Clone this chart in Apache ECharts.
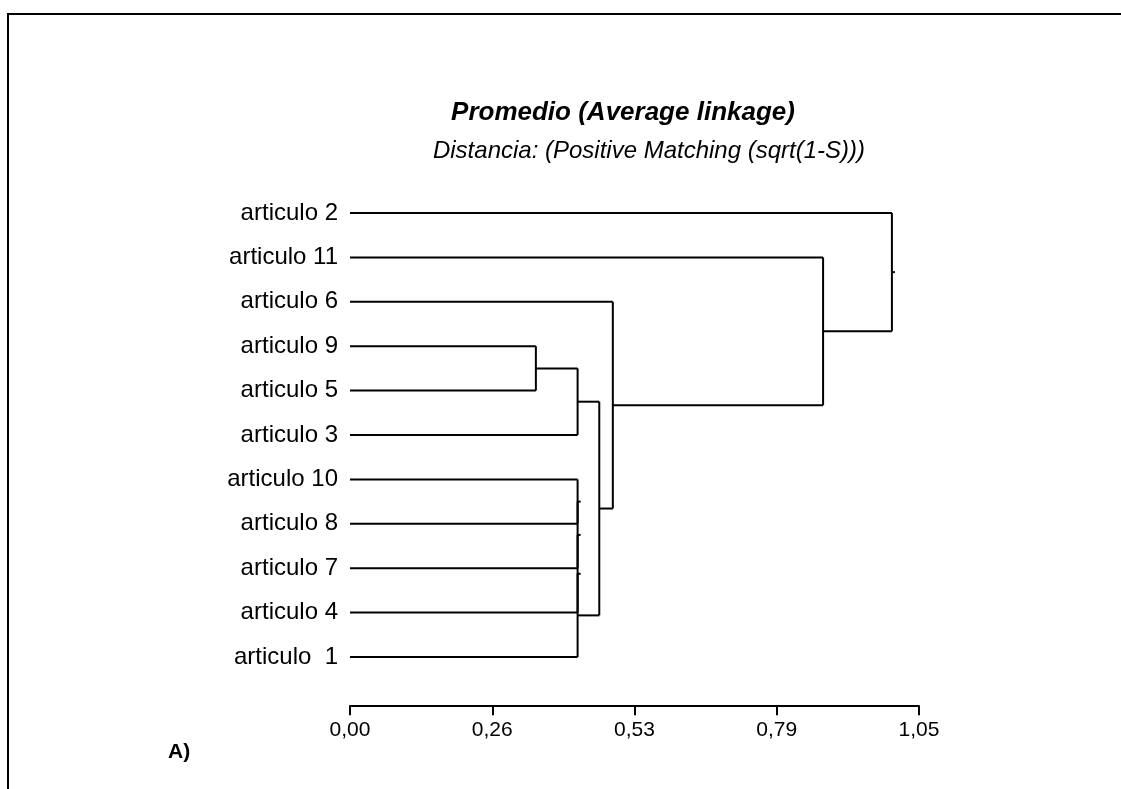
<!DOCTYPE html>
<html>
<head>
<meta charset="utf-8">
<script src="https://cdn.jsdelivr.net/npm/echarts@6/dist/echarts.min.js"></script>
<style>html,body{margin:0;padding:0;background:#fff}#c{width:1121px;height:789px}</style>
</head>
<body>
<div id="c"></div>
<script>
// Leaf order (top to bottom)
const leaves = ['articulo 2','articulo 11','articulo 6','articulo 9','articulo 5','articulo 3','articulo 10','articulo 8','articulo 7','articulo 4','articulo  1'];
// Binary merge steps: left child, right child, linkage distance
const mergeLeft   = ['articulo 9','m1','articulo 10','m3','m4','m5','m2','articulo 6','articulo 11','articulo 2'];
const mergeRight  = ['articulo 5','articulo 3','articulo 8','articulo 7','articulo 4','articulo  1','m6','m7','m8','m9'];
const mergeHeight = [0.343, 0.42, 0.42, 0.42, 0.42, 0.42, 0.46, 0.485, 0.873, 1.0];
// Axis ticks
const tickValues = [0, 0.2625, 0.525, 0.7875, 1.05];
const tickLabels = ['0,00','0,26','0,53','0,79','1,05'];

// Build segments from the merge table
const nodeY = {}, nodeH = {};
leaves.forEach((n, i) => { nodeY[n] = i; nodeH[n] = 0; });
const segs = [];
mergeHeight.forEach((h, k) => {
  const a = mergeLeft[k], b = mergeRight[k], id = 'm' + (k + 1);
  segs.push([nodeH[a], nodeY[a], h, nodeY[a]]);
  segs.push([nodeH[b], nodeY[b], h, nodeY[b]]);
  segs.push([h, nodeY[a], h, nodeY[b]]);
  nodeY[id] = (nodeY[a] + nodeY[b]) / 2;
  nodeH[id] = h;
});
const root = 'm' + mergeHeight.length;
segs.push([nodeH[root], nodeY[root], nodeH[root], nodeY[root]]);

const font = '"Liberation Sans", Arial, sans-serif';
const chart = echarts.init(document.getElementById('c'), null, {renderer: 'canvas'});
chart.setOption({
  animation: false,
  backgroundColor: '#fff',
  title: [
    {text: 'Promedio (Average linkage)', left: 618, top: 95, textAlign: 'center',
     textStyle: {fontFamily: font, fontSize: 26, fontWeight: 'bold', fontStyle: 'italic', color: '#000'}},
    {text: 'Distancia: (Positive Matching (sqrt(1-S)))', left: 644, top: 134, textAlign: 'center',
     textStyle: {fontFamily: font, fontSize: 24, fontWeight: 'normal', fontStyle: 'italic', color: '#000'}},
    {text: 'A)', left: 163, top: 737,
     textStyle: {fontFamily: font, fontSize: 21, fontWeight: 'bold', color: '#000'}}
  ],
  graphic: [{type: 'polyline', shape: {points: [[8, 789], [8, 14], [1121, 14]]},
             style: {stroke: '#000', lineWidth: 2, fill: null}}],
  grid: {left: 350, right: 202, top: 190.8, bottom: 109.8, containLabel: false},
  xAxis: {
    type: 'value', min: 0, max: 1.05, position: 'bottom', offset: 27,
    splitLine: {show: false},
    axisLine: {show: true, onZero: false, lineStyle: {color: '#000', width: 2}},
    axisTick: {show: true, customValues: tickValues, length: 9, lineStyle: {color: '#000', width: 2}},
    axisLabel: {show: true, customValues: tickValues, margin: 14, color: '#000', fontFamily: font, fontSize: 21,
      formatter: v => tickLabels[tickValues.findIndex(t => Math.abs(t - v) < 1e-6)] || ''}
  },
  yAxis: [
    {type: 'category', data: leaves, inverse: true,
     axisLine: {show: false}, axisTick: {show: false}, splitLine: {show: false},
     axisLabel: {margin: 12, color: '#000', fontFamily: font, fontSize: 24}},
    {type: 'value', min: -0.5, max: 10.5, inverse: true, show: false}
  ],
  series: [{
    type: 'custom', yAxisIndex: 1, data: segs,
    encode: {x: [0, 2], y: [1, 3]},
    renderItem: (params, api) => {
      const p1 = api.coord([api.value(0), api.value(1)]);
      const p2 = api.coord([api.value(2), api.value(3)]);
      if (Math.abs(p2[0] - p1[0]) < 0.5 && Math.abs(p2[1] - p1[1]) < 0.5) p2[0] = p1[0] + 3;
      return {type: 'line', shape: {x1: p1[0], y1: p1[1], x2: p2[0], y2: p2[1]},
              style: {stroke: '#000', lineWidth: 2}};
    }
  }]
});
</script>
</body>
</html>
